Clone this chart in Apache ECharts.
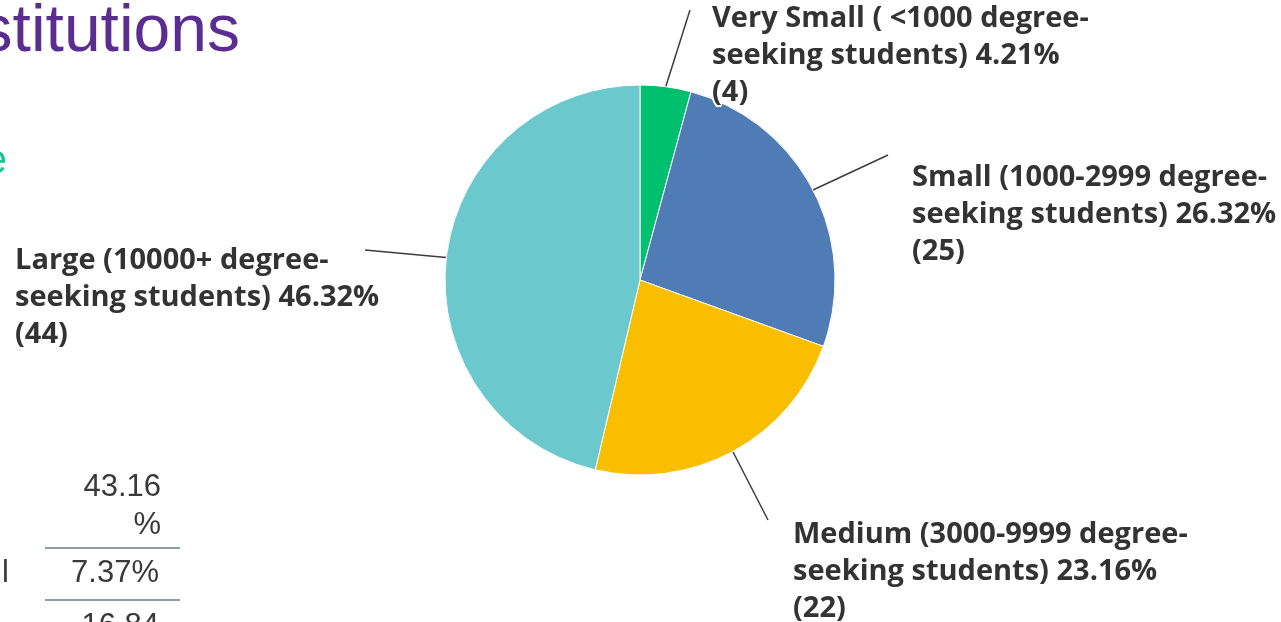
<!DOCTYPE html>
<html>
<head>
<meta charset="utf-8">
<title>Institutions by size</title>
<script src="https://cdn.jsdelivr.net/npm/echarts@6/dist/echarts.min.js"></script>
<style>
  html, body { margin: 0; padding: 0; background: #ffffff; }
  #chart { width: 1281px; height: 622px; }
</style>
</head>
<body>
<div id="chart"></div>
<script>
// Institution size categories and respondent counts
const categories = [
  'Very Small ( <1000 degree-seeking students)',
  'Small (1000-2999 degree-seeking students)',
  'Medium (3000-9999 degree-seeking students)',
  'Large (10000+ degree-seeking students)'
];
const counts = [4, 25, 22, 44];
const sliceColors = ['#00bf6f', '#507cb6', '#f9be00', '#6bc8cd'];

// Partial side table values
const tableValues = ['43.16', '%', '7.37%', '16.84'];

const total = counts.reduce((a, b) => a + b, 0);

// Where each slice label sits and where its leader line ends
const labelSpots = [
  { x: 712, y: 0,   end: [690, 10] },
  { x: 912, y: 159, end: [888, 155] },
  { x: 793, y: 516, end: [768, 520] },
  { x: 15,  y: 242, end: [365, 250] }
];

const chart = echarts.init(document.getElementById('chart'), null, { renderer: 'canvas' });

const tableFont = '"Liberation Sans", Arial, sans-serif';
const labelFont = '"Open Sans", "Noto Sans", sans-serif';

// text placed by its baseline (top of box sits 0.8em above it)
function plainText(x, baseline, text, fill, size, align) {
  return {
    type: 'text', x: x, y: baseline - 0.8 * size,
    style: { text: text, fill: fill, font: '400 ' + size + 'px ' + tableFont, align: align, verticalAlign: 'top' }
  };
}

chart.setOption({
  animation: false,
  backgroundColor: '#ffffff',
  color: sliceColors,
  graphic: [
    // slide title fragment
    plainText(240, 53, 'stitutions', '#5c2d91', 66, 'right'),
    plainText(7, 174, 'e', '#1cc394', 40, 'right'),
    // side table fragment
    plainText(161, 497, tableValues[0], '#3a3a3a', 31, 'right'),
    plainText(161, 535, tableValues[1], '#3a3a3a', 31, 'right'),
    { type: 'line', shape: { x1: 45, y1: 548, x2: 180, y2: 548 },
      style: { stroke: '#8d9cab', lineWidth: 2 } },
    plainText(9, 583, 'l', '#3a3a3a', 31, 'right'),
    plainText(159, 583, tableValues[2], '#3a3a3a', 31, 'right'),
    { type: 'line', shape: { x1: 45, y1: 600, x2: 180, y2: 600 },
      style: { stroke: '#8d9cab', lineWidth: 2 } },
    plainText(159, 636, tableValues[3], '#3a3a3a', 31, 'right')
  ],
  series: [{
    type: 'pie',
    center: [640, 280],
    radius: 195,
    startAngle: 90,
    clockwise: true,
    itemStyle: { borderColor: '#ffffff', borderWidth: 1 },
    label: {
      show: true,
      position: 'outside',
      color: '#333333',
      fontFamily: labelFont,
      fontWeight: 'bold',
      fontSize: 29,
      lineHeight: 37,
      textBorderColor: '#ffffff',
      textBorderWidth: 4,
      formatter: function (p) {
        const pct = (p.value / total * 100).toFixed(2);
        return p.name.replace('degree-', 'degree-\n') + ' ' + pct + '%\n(' + p.value + ')';
      }
    },
    labelLine: {
      show: true,
      lineStyle: { color: '#3d3d3d', width: 1.5 }
    },
    labelLayout: function (params) {
      const s = labelSpots[params.dataIndex];
      return {
        x: s.x,
        y: s.y,
        align: 'left',
        verticalAlign: 'top',
        labelLinePoints: [params.labelLinePoints[0], s.end]
      };
    },
    data: categories.map((name, i) => ({ name: name, value: counts[i] }))
  }]
});
</script>
</body>
</html>
